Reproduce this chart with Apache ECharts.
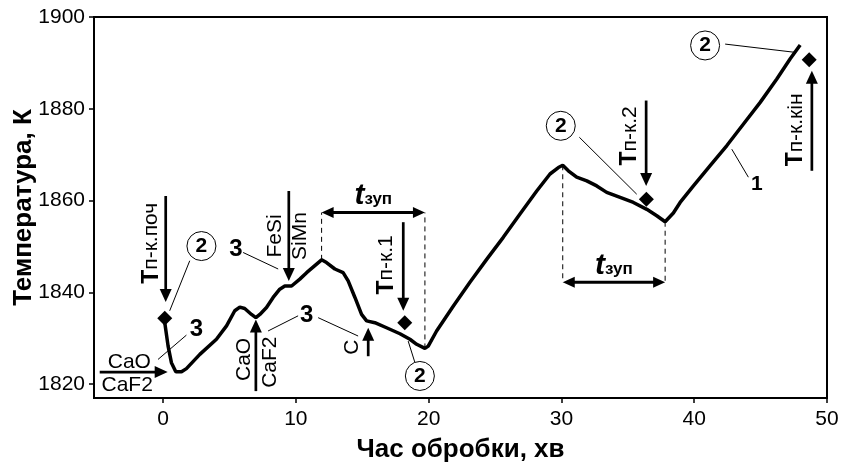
<!DOCTYPE html>
<html><head><meta charset="utf-8">
<script src="https://cdn.jsdelivr.net/npm/echarts@6/dist/echarts.min.js"></script>
<style>html,body{margin:0;padding:0;background:#fff}#c{width:841px;height:466px}</style>
</head><body><div id="c"></div>
<script>
// ---- data (time, min ; temperature, K) ----
const timeMin = [0.13,0.38,0.63,0.96,1.39,1.76,2.77,4.02,4.78,5.40,5.78,6.15,6.66,6.99,7.29,7.79,8.29,8.79,9.17,9.68,10.30,10.81,11.94,12.31,12.94,13.56,13.94,14.45,14.95,15.33,15.95,16.83,17.84,18.59,19.10,19.72,19.97,20.60,21.85,23.11,24.37,25.62,26.88,28.14,29.14,29.77,30.10,30.52,31.15,31.91,32.66,33.41,34.42,35.42,36.43,37.18,37.81,38.43,38.94,39.94,41.20,42.46,43.71,44.97,46.22,47.23,47.98];
const tempK = [1833.4,1828.3,1824.7,1822.7,1822.7,1823.4,1826.5,1829.8,1832.7,1836.0,1836.8,1836.5,1835.2,1834.5,1835.2,1836.7,1838.9,1840.7,1841.4,1841.4,1842.9,1844.3,1847.1,1846.5,1845.1,1844.3,1842.5,1838.9,1835.2,1833.8,1833.4,1832.3,1831.0,1829.8,1828.7,1827.8,1828.3,1831.6,1837.0,1842.2,1847.2,1852.0,1857.1,1862.1,1865.8,1867.2,1867.7,1866.5,1865.1,1864.3,1863.2,1861.8,1860.7,1859.6,1858.1,1856.7,1855.4,1857.3,1859.6,1863.2,1867.6,1872.0,1876.7,1881.4,1886.5,1890.9,1893.9];
const probeNames = ['поч','1','2','кін'];
const probeTime = [0.13, 18.2, 36.4, 48.66];
const probeTemp = [1834.4, 1833.4, 1860.3, 1890.7];
const xTicks = [0,10,20,30,40,50];
const yTicks = [1820,1840,1860,1880,1900];
const xTitle = 'Час обробки, хв';
const yTitle = 'Температура, К';

// ---- annotations, in data units ----
const dashedLines = [[11.94,1847.1,11.94,1857.4],[19.72,1827.8,19.72,1857.4],[30.10,1867.7,30.10,1842.2],[37.81,1855.4,37.81,1842.2]];
const spanArrows = [[11.94,19.72,1857.4],[30.10,37.81,1842.2]];
const probeArrows = [[0.2,1861.0,0.2,1837.9],[18.09,1855.3,18.09,1836.0],[36.38,1881.8,36.38,1863.2],[48.86,1866.5,48.86,1888.3]];
const probeLabelPos = [[-0.87,1850.7],[16.83,1846.0],[35.17,1874.1],[47.66,1875.4]];
const addArrows = [[-4.77,1822.65,0.35,1822.65],[6.99,1818.5,6.99,1834.1],[9.47,1862.1,9.47,1842.5],[15.45,1826.1,15.45,1832.3]];
const addLabels = [['CaO',-2.54,1824.8,0],['CaF2',-2.70,1819.75,0],['CaO',6.08,1825.4,90],['CaF2',8.04,1824.8,90],['FeSi',8.42,1852.3,90],['SiMn',10.36,1852.3,90],['C',14.26,1828.1,90]];
const circle2 = [[2.89,1850.1],[19.34,1821.8],[29.95,1876.3],[40.82,1893.8]];
const circle2Leaders = [[2.01,1846.9,0.50,1836.0],[18.97,1824.7,18.46,1829.4],[31.35,1873.8,35.67,1861.4],[42.33,1894.1,47.6,1892.3]];
const three = [[2.52,1832.0],[5.48,1849.4],[10.81,1834.9]];
const threeLeaders = [[1.76,1830.7,-0.38,1825.4],[6.03,1848.7,8.67,1845.1],[10.17,1834.9,7.91,1831.6],[11.68,1834.5,14.69,1830.5]];
const oneLabel = [44.72,1863.6];
const oneLeader = [44.08,1865.1,42.83,1871.2];

const FF = "Arial, 'Liberation Sans', sans-serif";
const chart = echarts.init(document.getElementById('c'));
chart.setOption({
  animation:false,
  backgroundColor:'#fff',
  grid:{left:94,right:14,top:17,bottom:68,containLabel:false,outerBoundsMode:'none',show:true,borderColor:'#000',borderWidth:2,backgroundColor:'transparent'},
  xAxis:{type:'value',min:-5.2,max:50,
    name:xTitle,nameLocation:'middle',nameGap:39,
    nameTextStyle:{fontFamily:FF,fontSize:26,fontWeight:'bold',color:'#000'},
    axisLine:{show:true,onZero:false,lineStyle:{color:'#000',width:2}},
    axisTick:{show:true,length:5,lineStyle:{color:'#000',width:1.5},customValues:xTicks},
    axisLabel:{fontFamily:FF,fontSize:21,color:'#000',margin:11,customValues:xTicks,formatter:v=>String(v)},
    splitLine:{show:false}},
  yAxis:{type:'value',min:1817,max:1900,
    name:yTitle,nameLocation:'middle',nameGap:57,nameMoveOverlap:false,
    nameTextStyle:{fontFamily:FF,fontSize:26,fontWeight:'bold',color:'#000'},
    axisLine:{show:true,onZero:false,lineStyle:{color:'#000',width:2}},
    axisTick:{show:true,length:5,lineStyle:{color:'#000',width:1.5},customValues:yTicks},
    axisLabel:{fontFamily:FF,fontSize:21,color:'#000',margin:9,customValues:yTicks,formatter:v=>String(v)},
    splitLine:{show:false}},
  series:[
    {type:'line',data:timeMin.map((t,i)=>[t,tempK[i]]),showSymbol:false,symbol:'none',
     lineStyle:{color:'#000',width:3.5},z:5},
    {type:'scatter',data:probeTime.map((t,i)=>[t,probeTemp[i]]),symbol:'diamond',symbolSize:[15,15],
     itemStyle:{color:'#000',opacity:1},z:6}
  ]
});

function P(x,y){return chart.convertToPixel({gridIndex:0},[x,y]);}
const g = [];
function line(a,b,w,dash){g.push({type:'line',z:3,shape:{x1:a[0],y1:a[1],x2:b[0],y2:b[1]},style:{stroke:'#000',lineWidth:w,lineDash:dash||null}});}
function head(tip,from,L,W){
  const dx=tip[0]-from[0],dy=tip[1]-from[1],d=Math.hypot(dx,dy),ux=dx/d,uy=dy/d;
  const bx=tip[0]-ux*L,by=tip[1]-uy*L;
  g.push({type:'polygon',z:4,shape:{points:[[tip[0],tip[1]],[bx-uy*W/2,by+ux*W/2],[bx+uy*W/2,by-ux*W/2]]},style:{fill:'#000'}});
  return [bx+ux*1,by+uy*1];
}
function arrow(a,b,w,L,W){const base=head(b,a,L,W);line(a,base,w);}
function darrow(a,b,w,L,W){const b1=head(b,a,L,W);const a1=head(a,b,L,W);line(a1,b1,w);}
function text(p,str,opt){g.push(Object.assign({type:'text',z:7,x:p[0],y:p[1],rotation:(opt.rot||0)*Math.PI/180,
  style:Object.assign({text:str,fill:'#000',align:'center',verticalAlign:'middle',fontFamily:FF},opt.style)}));}

dashedLines.forEach(d=>line(P(d[0],d[1]),P(d[2],d[3]),1,[5,4]));
spanArrows.forEach(s=>{
  const a=P(s[0],s[2]),b=P(s[1],s[2]);
  darrow(a,b,3,12,11);
  text([(a[0]+b[0])/2,a[1]-17],'{t|t}{s|зуп}',{style:{rich:{t:{fontFamily:FF,fontSize:30,fontWeight:'bold',fontStyle:'italic'},s:{fontFamily:FF,fontSize:17,fontWeight:'bold',padding:[8,0,0,0]}}}});
});
probeArrows.forEach(a=>arrow(P(a[0],a[1]),P(a[2],a[3]),2.7,13,12));
probeLabelPos.forEach((p,i)=>text(P(p[0],p[1]),'{T|Т}{s|п-к.'+probeNames[i]+'}',{rot:90,style:{rich:{T:{fontFamily:FF,fontSize:23,fontWeight:'bold'},s:{fontFamily:FF,fontSize:21}}}}));
addArrows.forEach(a=>arrow(P(a[0],a[1]),P(a[2],a[3]),2.7,13,12));
addLabels.forEach(l=>text(P(l[1],l[2]),l[0],{rot:l[3],style:{fontSize:21}}));
circle2Leaders.forEach(d=>line(P(d[0],d[1]),P(d[2],d[3]),1));
circle2.forEach(c=>{const p=P(c[0],c[1]);
  g.push({type:'circle',z:6,shape:{cx:p[0],cy:p[1],r:14.5},style:{fill:'#fff',stroke:'#000',lineWidth:1}});
  text(p,'2',{style:{fontSize:21,fontWeight:'bold'}});});
threeLeaders.forEach(d=>line(P(d[0],d[1]),P(d[2],d[3]),1));
three.forEach(t=>text(P(t[0],t[1]),'3',{style:{fontSize:24,fontWeight:'bold'}}));
line(P(oneLeader[0],oneLeader[1]),P(oneLeader[2],oneLeader[3]),1);
text(P(oneLabel[0],oneLabel[1]),'1',{style:{fontSize:21,fontWeight:'bold'}});

chart.setOption({graphic:{elements:g}});
</script></body></html>
